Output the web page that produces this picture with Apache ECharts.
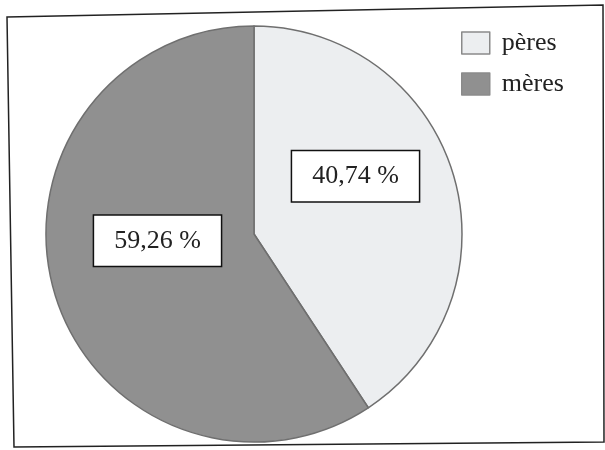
<!DOCTYPE html>
<html>
<head>
<meta charset="utf-8">
<script src="https://cdn.jsdelivr.net/npm/echarts@6/dist/echarts.min.js"></script>
<style>
  html, body { margin: 0; padding: 0; background: #fff; }
  #chart { width: 605px; height: 450px; }
</style>
</head>
<body>
<div id="chart"></div>
<script>
// data
const categories = ['pères', 'mères']
const percentages = [40.74, 59.26]
const sliceColors = ['#eceef0', '#909090']

const chart = echarts.init(document.getElementById('chart'), null, { renderer: 'canvas' })

const pieData = categories.map((name, i) => ({
  name: name,
  value: percentages[i],
  itemStyle: { color: sliceColors[i] }
}))

chart.setOption({
  animation: false,
  backgroundColor: '#fff',
  // scanned frame around the chart, a bit skewed
  graphic: [{
    type: 'polygon',
    shape: { points: [[7, 17], [603, 5], [604, 442], [14, 447]] },
    style: { fill: 'none', stroke: '#222', lineWidth: 1.5 },
    silent: true
  }],
  legend: {
    orient: 'vertical',
    left: 461,
    top: 30,
    padding: 0,
    itemWidth: 28,
    itemHeight: 22,
    itemGap: 15,
    icon: 'rect',
    data: categories,
    itemStyle: { borderColor: '#8a8a8a', borderWidth: 1.5 },
    textStyle: {
      fontFamily: 'Liberation Serif',
      fontSize: 26,
      color: '#222',
      padding: [0, 0, 0, 7]
    }
  },
  series: [{
    type: 'pie',
    center: [254, 234],
    radius: 208,
    startAngle: 90,
    clockwise: true,
    silent: true,
    itemStyle: { borderColor: '#6f6f6f', borderWidth: 1.5 },
    label: {
      show: true,
      position: 'inside',
      formatter: p => p.value.toFixed(2).replace('.', ',') + ' %',
      fontFamily: 'Liberation Serif',
      fontSize: 26,
      lineHeight: 30,
      color: '#222',
      backgroundColor: '#fff',
      borderColor: '#111',
      borderWidth: 1.5,
      padding: [10, 20]
    },
    // nudge the boxes a little higher than the slice middle, as in the scan
    labelLayout: params => ({ dx: params.dataIndex === 1 ? 6 : -1, dy: params.dataIndex === 1 ? -24 : -27 }),
    labelLine: { show: false },
    data: pieData
  }]
})
</script>
</body>
</html>
